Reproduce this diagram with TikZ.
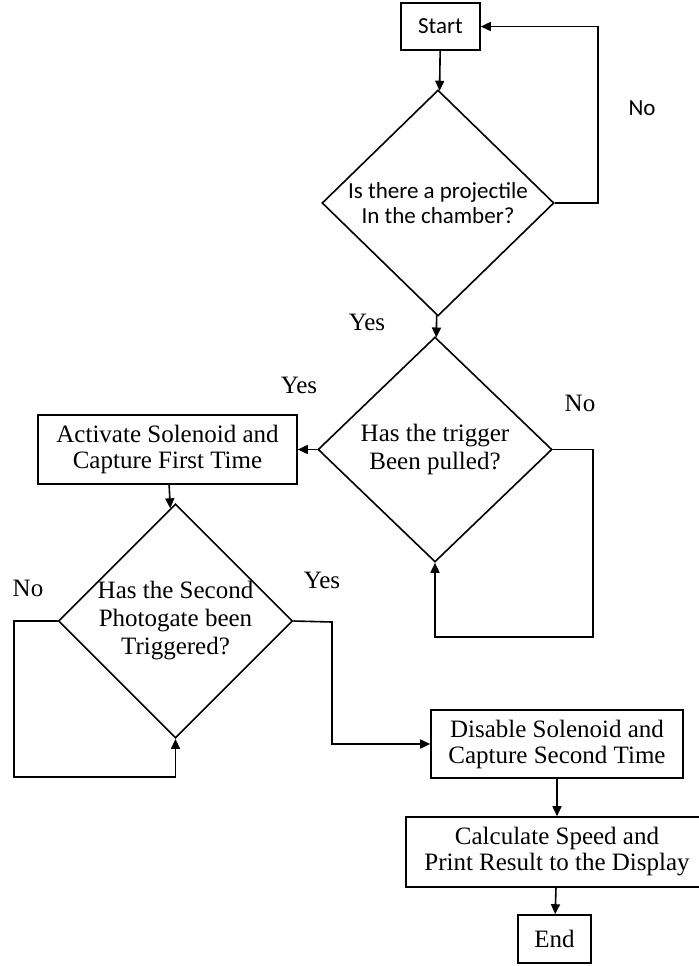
\documentclass[tikz,border=0pt]{standalone}
\usepackage{fontspec}
\setmainfont{Liberation Serif}
\newfontfamily\calibri{Carlito}
\usepackage{tikz}
\usetikzlibrary{positioning, shapes.geometric, arrows.meta, calc}

\begin{document}
\begin{tikzpicture}[x=0.5pt, y=-0.5pt, line width=0.8pt,
  box/.style={draw, rectangle, align=center, inner sep=0pt, font=\fontsize{12.5}{13}\selectfont},
  decision/.style={draw, diamond, align=center, inner sep=0pt, font=\fontsize{12.5}{14}\selectfont},
  lbl/.style={font=\fontsize{12.5}{13}\selectfont},
  arr/.style={-{Triangle[length=5pt, width=4.5pt]}}]
  \useasboundingbox (0,0) rectangle (698,966);
  \node[box, minimum width=39.5pt, minimum height=23.5pt, font=\calibri\fontsize{11.5}{12.5}\selectfont] (start) at (440.5,26.5) {Start};
  \node[decision, minimum width=116pt, minimum height=113pt, font=\calibri\fontsize{11.5}{12.5}\selectfont] (chamber) at (438,203) {Is there a projectile\\In the chamber?};
  \node[decision, minimum width=117pt, minimum height=112.5pt] (trigger) at (435,449.5) {Has the trigger\\Been pulled?};
  \node[box, minimum width=129.5pt, minimum height=34.5pt] (activate) at (167.5,449.5) {Activate Solenoid and\\Capture First Time};
  \node[decision, minimum width=116.5pt, minimum height=113pt] (photogate) at (175.5,621) {Has the Second\\Photogate been\\Triggered?};
  \node[box, minimum width=126pt, minimum height=34pt] (disable) at (557,744) {Disable Solenoid and\\Capture Second Time};
  \node[box, minimum width=151pt, minimum height=35pt] (calc) at (557,852) {Calculate Speed and\\Print Result to the Display};
  \node[box, minimum width=36.5pt, minimum height=24pt] (end) at (554.5,939) {End};

  % labels
  \node[font=\calibri\fontsize{11.5}{12.5}\selectfont] (no1) at (642,108) {No};
  \node[lbl] (yes1) at (367,322) {Yes};
  \node[lbl] (yes2) at (299,385) {Yes};
  \node[lbl] (no2) at (580,403) {No};
  \node[lbl] (no3) at (28,588) {No};
  \node[lbl] (yes3) at (322,580) {Yes};

  % bends
  \coordinate (c1) at (598,203);
  \coordinate (c2) at (593,637);
  \coordinate (c3) at (14,777);
  \coordinate (c4) at (332,622);

  \draw[arr] (start) -- (chamber);
  \draw[arr] (chamber.east) -- (c1) |- (start.east);
  \draw[arr] (chamber) -- (trigger);
  \draw[arr] (trigger) -- (activate);
  \draw[arr] (trigger.east) -| (c2) -| (trigger.south);
  \draw[arr] (activate) -- (photogate);
  \draw[arr] (photogate.west) -| (c3) -| (photogate.south);
  \draw[arr] (photogate.east) -- (c4) |- (disable.west);
  \draw[arr] (disable) -- (calc);
  \draw[arr] (calc) -- (end);
\end{tikzpicture}
\end{document}
